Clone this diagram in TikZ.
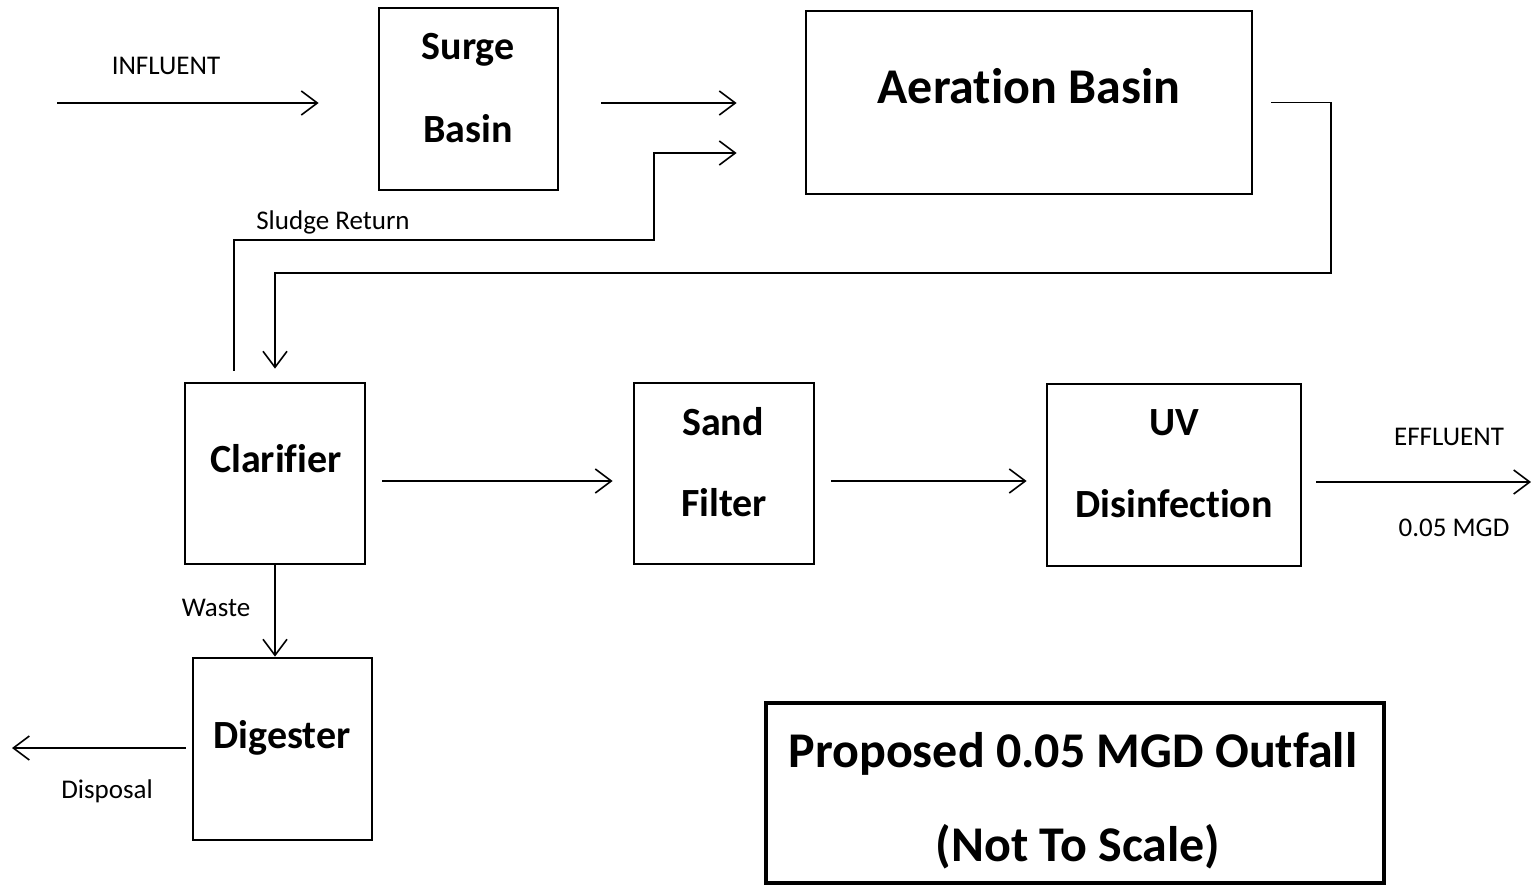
\documentclass[tikz,border=0pt]{standalone}
\usepackage{fontspec}
\setmainfont{Carlito}[Ligatures=NoCommon]
\usetikzlibrary{arrows.meta}
\tikzset{
  box/.style={draw, line width=1.4pt, inner sep=0pt},
  boxtext/.style={font=\fontsize{20}{24}\selectfont\bfseries, anchor=base},
  bigtext/.style={font=\fontsize{25}{30}\selectfont\bfseries, anchor=base},
  small/.style={font=\fontsize{13.5}{16}\selectfont, anchor=base},
  flow/.style={line width=0.8pt, -{Straight Barb[length=8pt,width=12pt,line width=0.8pt]}}
}
\begin{document}
\begin{tikzpicture}[x=0.5pt, y=-0.5pt]
            \useasboundingbox (0,0) rectangle (1531,885);

            \node (surge) at (468.5,99) [box, minimum width=89.5pt, minimum height=91pt] {};
            \node (aeration) at (1029,102.5) [box, minimum width=223pt, minimum height=91.5pt] {};
            \node (clarifier) at (275,473.5) [box, minimum width=90pt, minimum height=90.5pt] {};
            \node (sand) at (724,473.5) [box, minimum width=90pt, minimum height=90.5pt] {};
            \node (uv) at (1174,475) [box, minimum width=127pt, minimum height=91pt] {};
            \node (digester) at (282.5,749) [box, minimum width=89.5pt, minimum height=91pt] {};
            \node (outfall) at (1075,793) [box, line width=2pt, minimum width=309pt, minimum height=90pt] {};

            \node (surge1) at (468,59) [boxtext] {Surge};
            \node (surge2) at (468,142) [boxtext] {Basin};
            \node (aeration1) at (1029,103) [bigtext] {Aeration Basin};
            \node (clarifier1) at (276,472) [boxtext] {Clarifier};
            \node (sand1) at (723,435) [boxtext] {Sand};
            \node (sand2) at (724,516) [boxtext] {Filter};
            \node (uv1) at (1174,435) [boxtext] {UV};
            \node (uv2) at (1174,517) [boxtext] {Disinfection};
            \node (digester1) at (282,748) [boxtext] {Digester};
            \node (outfall1) at (1073,767) [bigtext] {Proposed 0.05 MGD Outfall};
            \node (outfall2) at (1078,861) [bigtext] {(Not To Scale)};

            \node (influent) at (166,74) [small] {INFLUENT};
            \node (sludge) at (333,229) [small] {Sludge Return};
            \node (waste) at (216,616) [small] {Waste};
            \node (disposal) at (107,798) [small] {Disposal};
            \node (effluent) at (1449,445) [small] {EFFLUENT};
            \node (mgd) at (1454,536) [small] {0.05 MGD};

            \coordinate (in) at (57,103);
            \coordinate (out) at (1531,482);
            \coordinate (disp) at (12,748);

            \draw[flow, shorten >=29.5pt] (in) -- (in -| surge.west);
            \draw[flow, shorten <=21pt, shorten >=34pt] (surge.east |- in) -- (aeration.west |- in);
            \draw[flow] ([xshift=-20.5pt,yshift=5.5pt]clarifier.north) |- (654,240) |- ([xshift=-34pt]aeration.west |- 0,153);
            \draw[flow] ([xshift=9pt]aeration.east) -| (1331,273) -| ([yshift=6.5pt]clarifier.north);
            \draw[flow, shorten <=8pt, shorten >=10pt] (clarifier.east |- 0,481) -- (sand.west |- 0,481);
            \draw[flow, shorten <=8pt, shorten >=9.5pt] (sand.east |- 0,481) -- (uv.west |- 0,481);
            \draw[flow, shorten <=7pt] (uv.east |- out) -- (out);
            \draw[flow] (clarifier.south) -- (clarifier.south |- digester.north);
            \draw[flow, shorten <=3pt] (digester.west |- disp) -- (disp);
\end{tikzpicture}
\end{document}
